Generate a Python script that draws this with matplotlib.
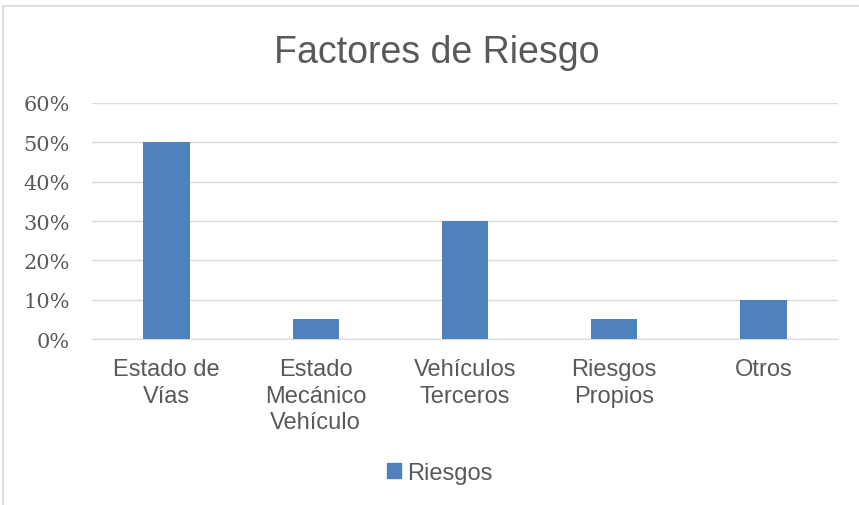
import matplotlib
matplotlib.use("Agg")
import matplotlib.pyplot as plt
from matplotlib.lines import Line2D
from matplotlib.patches import Patch
from matplotlib.ticker import PercentFormatter

categories = ["Estado de\nVías", "Estado\nMecánico\nVehículo", "Vehículos\nTerceros",
              "Riesgos\nPropios", "Otros"]
values = [0.50, 0.05, 0.30, 0.05, 0.10]
yticks = [0.0, 0.1, 0.2, 0.3, 0.4, 0.5, 0.6]
series_name = "Riesgos"

BLUE = "#4F81BD"
TEXT = "#595959"
GRID = "#D9D9D9"

fig = plt.figure(figsize=(8.59, 5.06), dpi=100)
ax = fig.add_axes([0.107, 0.328, 0.8686, 0.4665])

x = range(len(categories))
ax.bar(x, values, width=0.31, color=BLUE, zorder=3)

ax.set_xlim(-0.5, len(categories) - 0.5)
ax.set_ylim(0, 0.6)
ax.set_yticks(yticks)
ax.yaxis.set_major_formatter(PercentFormatter(1.0, decimals=0))
ax.set_xticks(list(x))
ax.set_xticklabels(categories, fontsize=17, color=TEXT, family="Liberation Sans",
                   linespacing=1.26, va="top")
for lab in ax.get_yticklabels():
    lab.set_family("DejaVu Serif")
    lab.set_fontsize(15)
    lab.set_color(TEXT)

ax.grid(axis="y", color=GRID, linewidth=1, zorder=0)
for s in ["top", "right", "left"]:
    ax.spines[s].set_visible(False)
ax.spines["bottom"].set_color(GRID)
ax.tick_params(axis="both", length=0)
ax.tick_params(axis="y", pad=16)
ax.tick_params(axis="x", pad=14)

fig.suptitle("Factores de Riesgo", x=0.508, y=0.93, fontsize=27, color=TEXT,
             family="Liberation Sans")

handle = Patch(color=BLUE, label=series_name)
fig.legend(handles=[handle], loc="center", bbox_to_anchor=(0.512, 0.063), frameon=False,
           prop={"family": "Liberation Sans", "size": 17}, labelcolor=TEXT,
           handlelength=0.6, handleheight=0.6, handletextpad=0.25)

# chart border (left and top edges visible in the original)
fig.add_artist(Line2D([0.0035, 0.0035], [0.0, 0.986], color=GRID, linewidth=1.2,
                      transform=fig.transFigure))
fig.add_artist(Line2D([0.0035, 1.0], [0.986, 0.986], color=GRID, linewidth=1.2,
                      transform=fig.transFigure))

fig.savefig("out.png", dpi=100)
